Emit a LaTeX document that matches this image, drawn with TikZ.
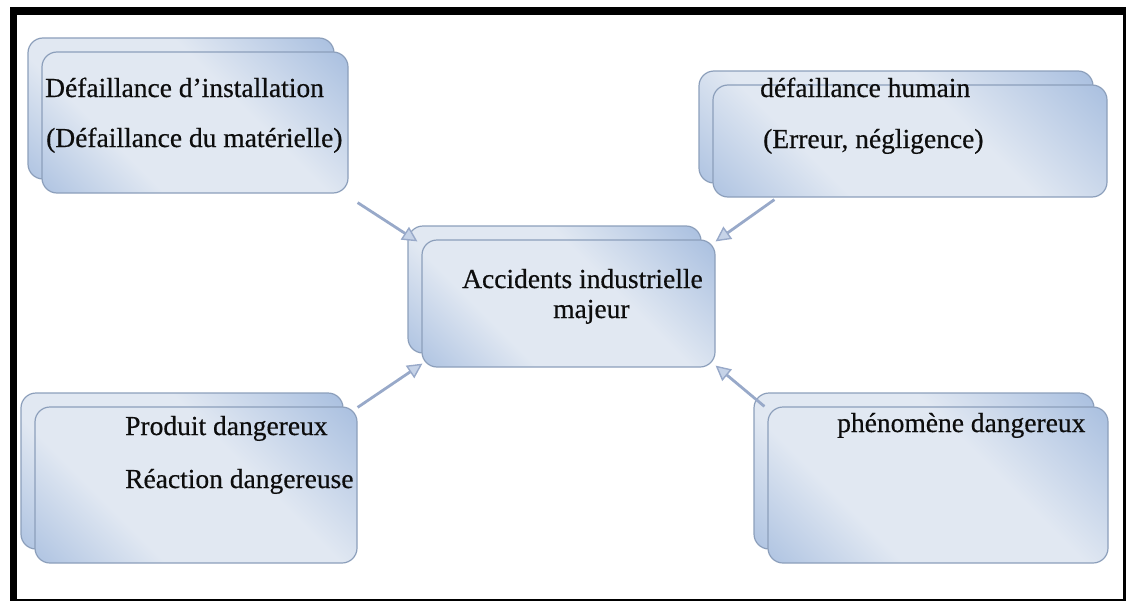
\documentclass[tikz,border=0pt]{standalone}
\usepackage{fontspec}
\setmainfont{Liberation Serif}
\newfontfamily\panelfont[FakeBold=0.5]{Liberation Serif}
\usetikzlibrary{arrows.meta,calc}

\definecolor{bxdark}{HTML}{89A8D5}
\definecolor{bxlight}{HTML}{E1E8F2}
\definecolor{bxedge}{HTML}{8C9FBB}
\definecolor{arrline}{HTML}{98A9C9}
\definecolor{arrfill}{HTML}{C6D3E8}

% diagonal blue-white-blue fill of the panels
\pgfdeclarehorizontalshading{boxgrad}{100bp}{color(0bp)=(bxdark); color(34bp)=(bxlight); color(60bp)=(bxlight); color(100bp)=(bxdark)}

\begin{document}
\begin{tikzpicture}[x=1pt,y=-1pt,
  panel/.style={rectangle, rounded corners=15pt, draw=bxedge, line width=1.2pt,
    shading=boxgrad, shading angle=45, inner sep=0pt},
  lbl/.style={anchor=base west, inner sep=0pt, text=black!95,
    font=\panelfont\fontsize{27.5}{33}\selectfont},
  link/.style={draw=arrline, line width=2.8pt,
    -{Triangle[length=15pt,width=15pt,fill=arrfill,line width=1.4pt]}}
]
\useasboundingbox (0,0) rectangle (1126,602);

% outer frame
\draw[line width=2.5pt] (11.5,9) rectangle (1124.5,600);
\fill (10,7) rectangle (17,601);
\fill (10,7) rectangle (1125.5,15);

% top left
\node[panel, minimum width=306, minimum height=141] (b1back) at (181,108.5) {};
\node[panel, minimum width=306, minimum height=141] (b1) at (195,122.5) {};
% top right
\node[panel, minimum width=394, minimum height=112] (b2back) at (896,127) {};
\node[panel, minimum width=394, minimum height=112] (b2) at (910,141) {};
% centre
\node[panel, minimum width=293, minimum height=127] (cback) at (554.5,289.5) {};
\node[panel, minimum width=293, minimum height=127] (c) at (568.5,303.5) {};
% bottom left
\node[panel, minimum width=322, minimum height=156] (b3back) at (182,471) {};
\node[panel, minimum width=322, minimum height=156] (b3) at (196,485) {};
% bottom right
\node[panel, minimum width=340, minimum height=156] (b4back) at (924,471) {};
\node[panel, minimum width=340, minimum height=156] (b4) at (938,485) {};

% labels
\node[lbl] (t1a) at (45,97) {Défaillance d’installation};
\node[lbl] (t1b) at (46,147) {(Défaillance du matérielle)};
\node[lbl] (t2a) at (760,97) {défaillance humain};
\node[lbl] (t2b) at (763,148) {(Erreur, négligence)};
\node[lbl] (tca) at (462,288) {Accidents industrielle};
\node[lbl] (tcb) at (553,318) {majeur};
\node[lbl] (t3a) at (125,435) {Produit dangereux};
\node[lbl] (t3b) at (125,488) {Réaction dangereuse};
\node[lbl] (t4a) at (837,432) {phénomène dangereux};

% arrow ends
\coordinate (s1) at ($(b1.south east)+(9,9)$);
\coordinate (e1) at ($(c.north west)+(-4,2)$);
\coordinate (s2) at ($(b2.south west)+(62,2)$);
\coordinate (e2) at ($(c.north east)+(0,2)$);
\coordinate (s3) at ($(b3.north east)+(0,1)$);
\coordinate (e3) at ($(c.south west)+(1,-4)$);
\coordinate (s4) at ($(b4.north west)+(-3,0)$);
\coordinate (e4) at ($(c.south east)+(0,-2)$);

\draw[link] (s1) -- (e1);
\draw[link] (s2) -- (e2);
\draw[link] (s3) -- (e3);
\draw[link] (s4) -- (e4);
\end{tikzpicture}
\end{document}
